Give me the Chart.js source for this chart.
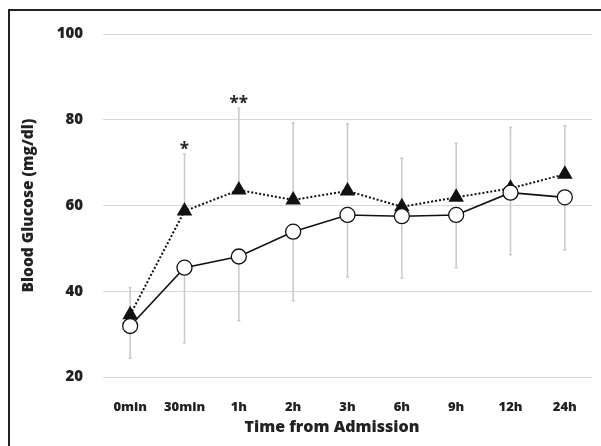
<!DOCTYPE html>
<html>
<head>
<meta charset="utf-8">
<script src="https://cdn.jsdelivr.net/npm/chart.js@4/dist/chart.umd.min.js"></script>
<style>
  html, body { margin: 0; padding: 0; background: #fff; overflow: hidden; }
  #wrap { position: relative; width: 601px; height: 446px; overflow: hidden; }
  #glucose { display: block; }
  .rule { position: absolute; background: #222; pointer-events: none; }
  #ruleTop { left: 8px; top: 9px; width: 593px; height: 1.5px; }
  #ruleLeft { left: 8px; top: 9px; width: 1.5px; height: 437px; }
</style>
</head>
<body>
<div id="wrap">
  <canvas id="glucose" width="601" height="446"></canvas>
  <div class="rule" id="ruleTop"></div>
  <div class="rule" id="ruleLeft"></div>
</div>
<script>
// time points
var labels = ['0min', '30min', '1h', '2h', '3h', '6h', '9h', '12h', '24h'];

// open circles, solid line (means and lower end of SD bar)
var circleMeans = [31.9, 45.5, 48.1, 53.9, 57.8, 57.5, 57.8, 63.0, 61.9];
var circleLower = [24.4, 28.0, 33.1, 37.8, 43.3, 43.1, 45.5, 48.5, 49.6];

// filled triangles, dotted line (means and upper end of SD bar)
var triangleMeans = [34.5, 58.7, 63.6, 61.3, 63.4, 59.7, 61.9, 64.0, 67.3];
var triangleUpper = [40.9, 72.0, 82.7, 79.3, 79.0, 71.0, 74.5, 78.2, 78.6];

// significance marks
var sigMarks = ['', '*', '**', '', '', '', '', '', ''];

var yTicks = [20, 40, 60, 80, 100];

var FONT = "'Open Sans', sans-serif";
var TEXT = '#222';
var WEIGHT = '800';

var errorBars = {
  id: 'errorBars',
  beforeDatasetsDraw: function (chart) {
    var ctx = chart.ctx, xs = chart.scales.x, ys = chart.scales.y;
    ctx.save();
    ctx.strokeStyle = '#c9c9c9';
    ctx.lineWidth = 1.5;
    function bar(x, from, to) {
      var y0 = ys.getPixelForValue(from), y1 = ys.getPixelForValue(to);
      ctx.beginPath();
      ctx.moveTo(x, y0); ctx.lineTo(x, y1);
      ctx.moveTo(x - 1.5, y1); ctx.lineTo(x + 1.5, y1);
      ctx.stroke();
    }
    for (var i = 0; i < labels.length; i++) {
      var x = xs.getPixelForValue(i);
      bar(x, triangleMeans[i], triangleUpper[i]);
      bar(x, circleMeans[i], circleLower[i]);
    }
    ctx.restore();
  },
  afterDatasetsDraw: function (chart) {
    var ctx = chart.ctx, xs = chart.scales.x, ys = chart.scales.y;
    ctx.save();
    ctx.fillStyle = TEXT;
    ctx.font = 'bold 17px ' + FONT;
    ctx.textAlign = 'center';
    ctx.textBaseline = 'alphabetic';
    for (var i = 0; i < labels.length; i++) {
      if (!sigMarks[i]) continue;
      ctx.fillText(sigMarks[i], xs.getPixelForValue(i), ys.getPixelForValue(triangleUpper[i]) + 1);
    }
    // x axis title
    ctx.font = WEIGHT + ' 16px ' + FONT;
    ctx.textBaseline = 'middle';
    ctx.fillText('Time from Admission', 332, 427);
    ctx.restore();
  }
};

new Chart(document.getElementById('glucose'), {
  type: 'line',
  data: {
    labels: labels,
    datasets: [
      {
        data: circleMeans,
        order: 0,
        borderColor: '#111',
        borderWidth: 1.6,
        tension: 0,
        pointStyle: 'circle',
        pointRadius: 7.5,
        pointBackgroundColor: '#fff',
        pointBorderColor: '#111',
        pointBorderWidth: 1.3
      },
      {
        data: triangleMeans,
        order: 1,
        borderColor: '#111',
        borderWidth: 2,
        borderDash: [2, 2],
        tension: 0,
        pointStyle: 'triangle',
        pointRadius: 9,
        pointBackgroundColor: '#111',
        pointBorderColor: '#111',
        pointBorderWidth: 0
      }
    ]
  },
  options: {
    responsive: false,
    animation: false,
    layout: { padding: { top: 34, right: 8, left: 0, bottom: 0 } },
    plugins: { legend: { display: false }, tooltip: { enabled: false } },
    scales: {
      x: {
        offset: true,
        grid: { display: false },
        border: { display: false },
        ticks: { color: TEXT, padding: 14, font: { family: FONT, size: 13, weight: WEIGHT } },
        afterFit: function (s) { s.height = 69; }
      },
      y: {
        min: 20,
        max: 100,
        afterBuildTicks: function (s) { s.ticks = yTicks.map(function (v) { return { value: v }; }); },
        grid: { color: '#d9d9d9', lineWidth: 1, drawTicks: false },
        border: { display: false },
        ticks: { color: TEXT, padding: 20, font: { family: FONT, size: 15, weight: WEIGHT } },
        title: {
          display: true,
          text: 'Blood Glucose (mg/dl)',
          color: TEXT,
          padding: { top: 19, bottom: 0 },
          font: { family: FONT, size: 15.5, weight: WEIGHT }
        },
        afterFit: function (s) { s.width = 103; }
      }
    }
  },
  plugins: [errorBars]
});
</script>
</body>
</html>
